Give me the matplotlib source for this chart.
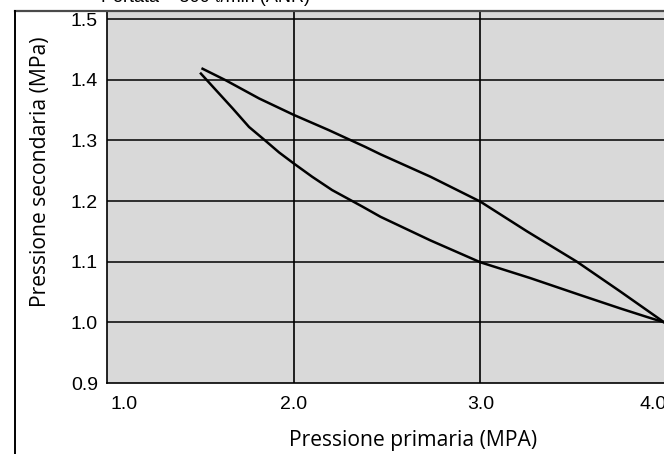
import numpy as np
import matplotlib.pyplot as plt
from matplotlib.lines import Line2D
from matplotlib.transforms import ScaledTranslation

# curve data (primary pressure vs secondary pressure)
x_up = [1.512, 1.636, 1.815, 2.000, 2.187, 2.385, 2.465, 2.733, 3.000, 3.250, 3.517, 3.749, 3.985]
y_up = [1.418, 1.399, 1.369, 1.342, 1.317, 1.289, 1.277, 1.240, 1.199, 1.150, 1.100, 1.051, 1.000]

x_down = [1.503, 1.583, 1.672, 1.761, 1.850, 1.922, 2.000, 2.099, 2.206, 2.367, 2.465, 2.733,
          3.000, 3.267, 3.535, 3.749, 3.891, 3.985]
y_down = [1.410, 1.383, 1.353, 1.322, 1.299, 1.280, 1.262, 1.240, 1.218, 1.191, 1.174, 1.135,
          1.099, 1.073, 1.045, 1.023, 1.009, 1.000]

x_ticks = [1.0, 2.0, 3.0, 4.0]
x_ticklabels = ['1.0', '2.0', '3.0', '4.0']
y_ticks = [0.9, 1.0, 1.1, 1.2, 1.3, 1.4, 1.5]
y_ticklabels = ['0.9', '1.0', '1.1', '1.2', '1.3', '1.4', '1.5']

W, H = 664, 454
fig = plt.figure(figsize=(W / 100, H / 100), dpi=100)
ax = fig.add_axes([107 / W, 71 / H, 560 / W, 372 / H])
ax.set_facecolor('#d9d9d9')

ax.set_xlim(1.0, 4.0)
ax.set_ylim(0.9, 0.9 + 0.6 * 372 / 364)

# grid
for yv in y_ticks[1:]:
    ax.axhline(yv, color='black', lw=1.1, zorder=1)
for xv in x_ticks[1:3]:
    ax.axvline(xv, color='black', lw=1.2, zorder=1)

ax.plot(x_up, y_up, color='black', lw=1.8, zorder=3, solid_joinstyle='round')
ax.plot(x_down, y_down, color='black', lw=1.8, zorder=3, solid_joinstyle='round')

ax.spines['top'].set_visible(False)
ax.spines['right'].set_visible(False)
ax.spines['left'].set_linewidth(1.2)
ax.spines['bottom'].set_linewidth(1.2)

tick_font = ['Liberation Sans', 'DejaVu Sans']
ax.set_xticks(x_ticks)
ax.set_xticklabels(x_ticklabels, fontsize=14, family=tick_font)
ax.set_yticks(y_ticks)
ax.set_yticklabels(y_ticklabels, fontsize=14, family=tick_font)
ax.tick_params(axis='both', length=0)
ax.tick_params(axis='x', pad=9.5)
ax.tick_params(axis='y', pad=6.5)

xl = ax.get_xticklabels()
xl[0].set_horizontalalignment('left')
xl[0].set_transform(xl[0].get_transform() + ScaledTranslation(4 / 100, 0, fig.dpi_scale_trans))
xl[-1].set_horizontalalignment('right')

label_font = ['Open Sans', 'DejaVu Sans']
ax.set_xlabel('Pressione primaria (MPA)', fontsize=15.2, family=label_font)
ax.xaxis.set_label_coords((413 - 107) / 560, (383 - 430) / 372)
ax.set_ylabel('Pressione secondaria (MPa)', fontsize=15.2, family=label_font)
ax.yaxis.set_label_coords((51 - 107) / 560, (383 - 172) / 372)

# cut-off caption at the top
fig.text(101 / W, 1 - 2.5 / H, 'Portata = 500 ℓ/min (ANR)', fontsize=13,
         family=tick_font, va='baseline', ha='left')

# frame of the original figure
fig.add_artist(Line2D([15 / W, 1.0], [1 - 11 / H, 1 - 11 / H], color='#4a4a4a', lw=1.6,
                      transform=fig.transFigure))
fig.add_artist(Line2D([15 / W, 15 / W], [0, 1 - 11 / H], color='black', lw=1.4,
                      transform=fig.transFigure))

fig.savefig('out.png', dpi=100)
